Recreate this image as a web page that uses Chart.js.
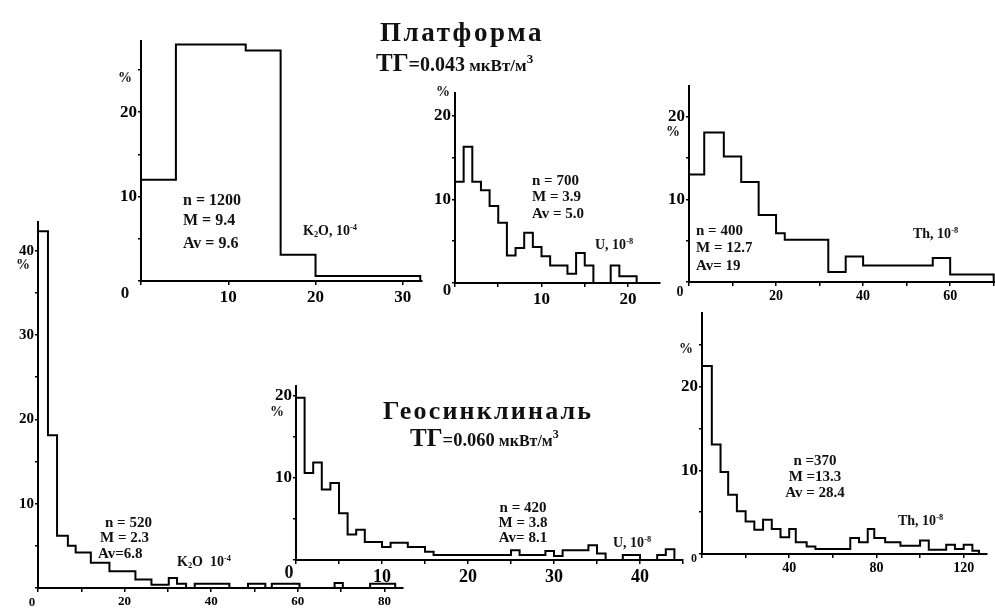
<!DOCTYPE html>
<html><head><meta charset="utf-8">
<script src="https://cdn.jsdelivr.net/npm/chart.js@4"></script>
<style>
html,body{margin:0;padding:0;background:#fff;}
body{width:995px;height:608px;overflow:hidden;position:relative;font-family:"Liberation Serif","DejaVu Serif",serif;}
canvas{position:absolute;}
.t{position:absolute;font-weight:bold;color:#111;white-space:nowrap;line-height:1;transform:translateY(-50%);}
.c{transform:translate(-50%,-50%);}
sup{font-size:0.6em;vertical-align:0.6em;line-height:0;}
sub{font-size:0.6em;vertical-align:-0.25em;line-height:0;}
</style></head><body>
<script>
// ---------- DATA (bin edges, % per bin) ----------
// Платформа
const k2oPlatEdges = [0,4,12,16,20,32];
const k2oPlatPct   = [12.0,28.0,27.3,3.1,0.6];
const uPlatEdges   = [0,1,2,3,4,5,6,7,8,9,10,11,13,14,15,16,18,19,21];
const uPlatPct     = [12.1,16.3,12.1,11.1,9.2,7.2,3.3,4.2,6.0,4.3,3.2,2.1,1.1,3.6,2.1,0,2.1,0.8];
const thPlatEdges  = [0,3.5,8,12,16,20,22,32,36,40,56,60,70];
const thPlatPct    = [13.0,18.1,15.2,12.1,8.1,5.9,5.1,1.2,3.1,2.0,2.9,0.9];
// Геосинклиналь
const k2oGeoEdges  = [0,2.3,4.4,6.9,8.7,12.2,16.5,22.5,26.2,30.2,32.1,34.2,36.2,44.2,48.5,52.5,54,60.4,68.5,70.4,76.7,82.5];
const k2oGeoPct    = [42.3,18.1,6.2,5.0,4.2,3.0,2.0,1.0,0.4,1.2,0.5,0,0.5,0,0.5,0,0.5,0,0.6,0,0.5];
const uGeoEdges    = [0,1,2,3,4,5,6,7,8,10,11,13,15,16,25,26,29,30,31,34,35,36,38,40,42,43,44];
const uGeoPct      = [19.8,10.6,11.9,8.6,9.4,5.7,3.1,3.7,2.2,1.6,2.1,1.6,1.0,0.6,1.2,0.6,1.1,0.5,1.2,1.8,0.8,0,0.6,0,0.6,1.3];
const thGeoEdges   = [0,4.5,8.5,12,16,20,24,28,32,36,40,43,48,52,68,72,76,79,84,91,100,104,112,116,120,124,127];
const thGeoPct     = [22.5,13.1,9.8,7.1,5.1,3.9,2.9,4.1,3.0,2.0,3.0,1.4,0.9,0.6,1.9,1.4,3.0,1.9,1.4,1.0,1.6,0.5,1.1,0.6,1.1,0.4];

// tick labels
const k2oPlatXLabels = [10,20,30];  const k2oPlatYLabels = [10,20];
const uPlatXLabels   = [10,20];     const uPlatYLabels   = [10,20];
const thPlatXLabels  = [20,40,60];  const thPlatYLabels  = [10,20];
const k2oGeoXLabels  = [20,40,60,80]; const k2oGeoYLabels = [10,20,30,40];
const uGeoXLabels    = [10,20,30,40]; const uGeoYLabels   = [10,20];
const thGeoXLabels   = [40,80,120]; const thGeoYLabels   = [10,20];

// ---------- helpers ----------
function histPoints(edges, pct){
  const pts = [{x:edges[0], y:0}];
  for (let i=0;i<pct.length;i++) pts.push({x:edges[i], y:pct[i]});
  pts.push({x:edges[edges.length-1], y:pct[pct.length-1]});
  pts.push({x:edges[edges.length-1], y:0});
  return pts;
}
const FONT = 'Liberation Serif';
function panel(g, edges, pct, xLabels, yLabels){
  const Wy = 40, Hx = 30, T = 3, R = 14;
  const cv = document.createElement('canvas');
  cv.width = Wy + g.w + R; cv.height = T + g.h + Hx;
  cv.style.left = (g.x0 - Wy) + 'px';
  cv.style.top = (g.top - T) + 'px';
  document.body.appendChild(cv);
  new Chart(cv, {
    type:'line',
    data:{datasets:[{data:histPoints(edges,pct), stepped:'before', borderColor:'#000', borderWidth:2,
      pointRadius:0, fill:false, tension:0, clip:false}]},
    options:{
      responsive:false, animation:false, events:[],
      layout:{autoPadding:false, padding:{top:T, right:R, left:0, bottom:0}},
      plugins:{legend:{display:false}, tooltip:{enabled:false}},
      scales:{
        x:{type:'linear', min:0, max:g.xmax, position:'bottom',
          border:{display:true, color:'#000', width:2},
          grid:{drawOnChartArea:false, drawTicks:true, tickLength:4, color:'#000', lineWidth:1.5},
          ticks:{stepSize:g.xstep, includeBounds:false, autoSkip:false, maxRotation:0, padding:g.xpad||2, color:'#000',
            font:{family:FONT, weight:'bold', size:g.xfs},
            callback:v=> xLabels.includes(v) ? String(v) : ''},
          afterFit:s=>{s.height = Hx;}},
        y:{type:'linear', min:0, max:g.ymax, position:'left',
          border:{display:true, color:'#000', width:2},
          grid:{drawOnChartArea:false, drawTicks:true, tickLength:3, color:'#000', lineWidth:1.5},
          ticks:{stepSize:5, includeBounds:false, autoSkip:false, padding:1, color:'#000',
            font:{family:FONT, weight:'bold', size:g.yfs},
            callback:v=> yLabels.includes(v) ? String(v) : ''},
          afterFit:s=>{s.width = Wy;}}
      }
    }
  });
}
function txt(html, x, y, size, center, extra){
  const d = document.createElement('div');
  d.className = 't' + (center ? ' c' : '');
  d.innerHTML = html;
  d.style.left = x + 'px'; d.style.top = y + 'px'; d.style.fontSize = size + 'px';
  if (extra) Object.assign(d.style, extra);
  document.body.appendChild(d);
}

// ---------- panels ----------
panel({x0:141, top:33,  w:281, h:248, xmax:32.2, ymax:28.4, xstep:10, xfs:17, yfs:17}, k2oPlatEdges, k2oPlatPct, k2oPlatXLabels, k2oPlatYLabels);
panel({x0:455, top:85,  w:205, h:198, xmax:23.7, ymax:22.7, xstep:5,  xfs:17, yfs:17}, uPlatEdges, uPlatPct, uPlatXLabels, uPlatYLabels);
panel({x0:689, top:78,  w:306, h:204, xmax:70.3, ymax:23.7, xstep:10, xfs:14, yfs:17}, thPlatEdges, thPlatPct, thPlatXLabels, thPlatYLabels);
panel({x0:38,  top:215, w:365, h:373, xmax:84.3, ymax:43.4, xstep:10, xfs:13, yfs:15}, k2oGeoEdges, k2oGeoPct, k2oGeoXLabels, k2oGeoYLabels);
panel({x0:296, top:378, w:387, h:182, xmax:45,   ymax:21.2, xstep:5,  xfs:18, yfs:17, xpad:3}, uGeoEdges, uGeoPct, uGeoXLabels, uGeoYLabels);
panel({x0:702, top:305, w:285, h:249, xmax:130.7,ymax:28.8, xstep:20, xfs:14, yfs:17}, thGeoEdges, thGeoPct, thGeoXLabels, thGeoYLabels);

// ---------- texts ----------
txt('Платформа', 380, 32, 27, false, {letterSpacing:'2.6px'});
txt('<span style="font-size:25px">ТГ</span>=0.043<span style="font-size:17px"> мкВт/м<sup style="font-size:13px">3</sup></span>', 376, 62, 20, false);
txt('Геосинклиналь', 383, 411, 26, false, {letterSpacing:'2.2px'});
txt('<span style="font-size:25px">ТГ</span>=0.060<span style="font-size:16px"> мкВт/м<sup style="font-size:12px">3</sup></span>', 410, 437, 18.5, false);

// x "0" labels
txt('0', 125, 292, 17, true); txt('0', 447, 289, 17, true); txt('0', 680, 292, 14, true);
txt('0', 32, 601, 13, true);  txt('0', 289, 572, 18, true); txt('0', 694, 558, 12, true);
// % signs
txt('%', 125, 78, 14, true); txt('%', 443, 92, 14, true); txt('%', 673, 132, 14, true);
txt('%', 23, 265, 14, true); txt('%', 277, 412, 14, true); txt('%', 686, 349, 14, true);

// stats
txt('n = 1200', 183, 200, 16); txt('M = 9.4', 183, 220, 16); txt('Av = 9.6', 183, 243, 16);
txt('K<sub>2</sub>O, 10<sup>-4</sup>', 303, 231, 14);
txt('n = 700', 532, 180, 15); txt('M = 3.9', 532, 196, 15); txt('Av = 5.0', 532, 213, 15);
txt('U, 10<sup>-8</sup>', 595, 245, 14);
txt('n = 400', 696, 230, 15); txt('M = 12.7', 696, 247, 15); txt('Av= 19', 696, 265, 15);
txt('Th, 10<sup>-8</sup>', 913, 234, 14);
txt('n = 520', 105, 522, 15); txt('M = 2.3', 100, 537, 15); txt('Av=6.8', 98, 553, 15);
txt('K<sub>2</sub>O&nbsp; 10<sup>-4</sup>', 177, 562, 14);
txt('n = 420', 523, 507, 15, true); txt('M = 3.8', 523, 522, 15, true); txt('Av= 8.1', 523, 537, 15, true);
txt('U, 10<sup>-8</sup>', 613, 543, 14);
txt('n =370', 815, 460, 15, true); txt('M =13.3', 815, 476, 15, true); txt('Av = 28.4', 815, 492, 15, true);
txt('Th, 10<sup>-8</sup>', 898, 521, 14);
</script>
</body></html>
